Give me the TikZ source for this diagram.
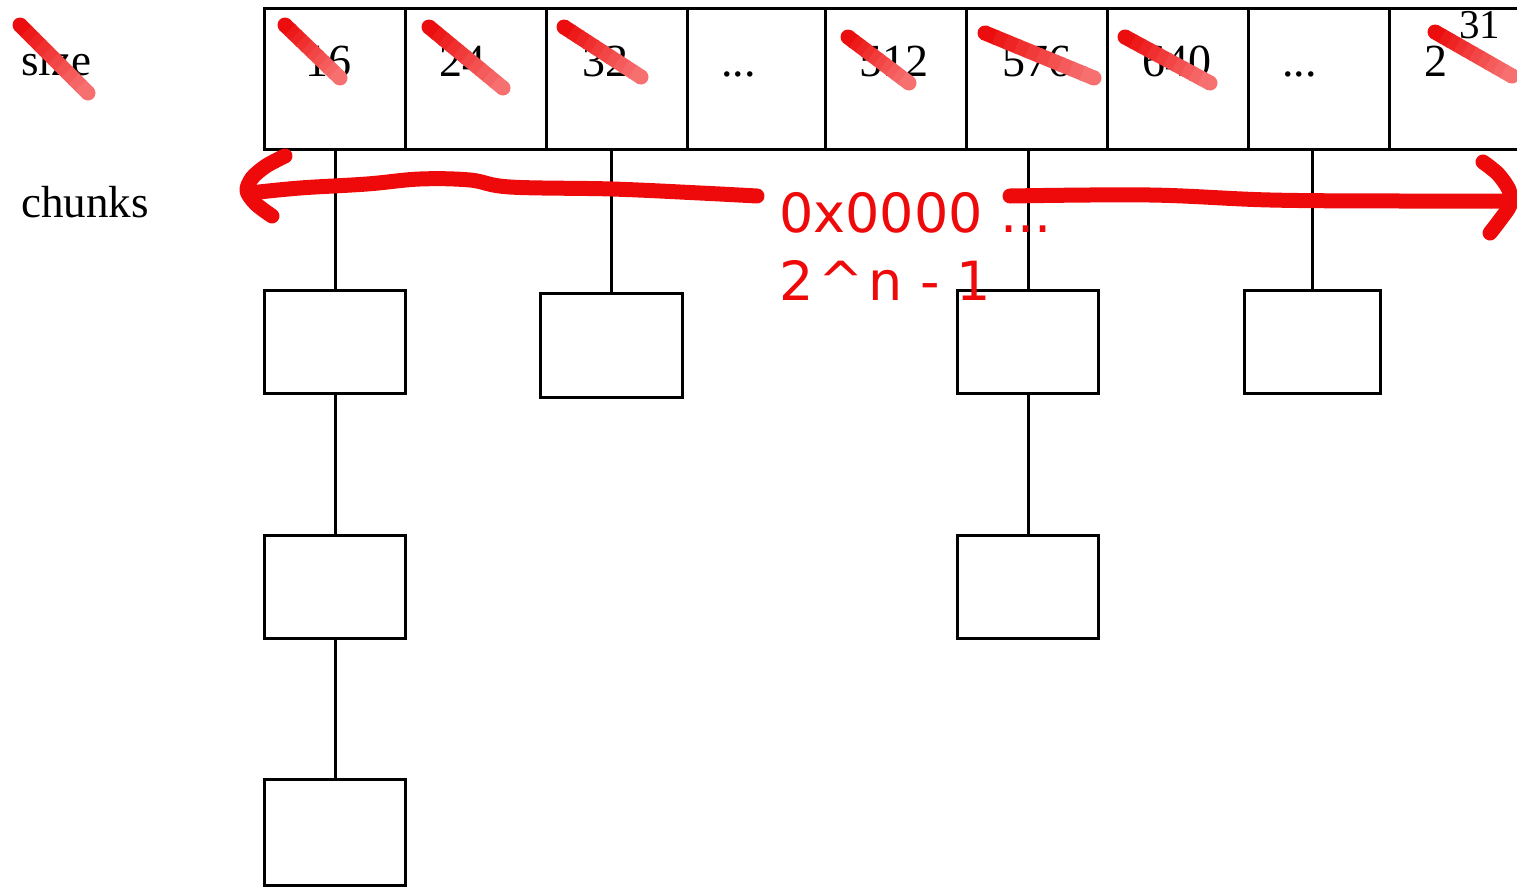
\documentclass[tikz,border=0pt]{standalone}
\usepackage{fontspec}
\setmainfont{Liberation Serif}
\newfontfamily\notefont{DejaVu Sans}
\usetikzlibrary{calc}

\definecolor{marker}{RGB}{238,10,10}
\definecolor{strikeA}{RGB}{236,14,14}
\definecolor{strikeB}{RGB}{247,112,112}

\tikzset{
  x=1pt, y=-1pt,
  cell/.style={draw, line width=3pt, inner sep=0pt, minimum width=141pt, minimum height=141pt},
  chunk/.style={draw, line width=3pt, inner sep=0pt, minimum width=141pt, minimum height=103pt, fill=white},
  link/.style={line width=3pt},
  lbl/.style={inner sep=0pt, anchor=base west, font=\fontsize{45}{54}\selectfont},
  num/.style={inner sep=0pt, anchor=base, font=\fontsize{46}{55}\selectfont},
  note/.style={inner sep=0pt, anchor=base west, text=marker, font=\notefont\fontsize{54}{64}\selectfont},
  pen/.style={draw=marker, line width=15pt, line cap=round, line join=round},
}

% a highlighter stroke that fades from strikeA to strikeB
\newcommand\crossout[2]{%
  \fill[strikeA] (#1) circle (7.5pt);
  \fill[strikeB] (#2) circle (7.5pt);
  \foreach \i in {0,...,9}{%
    \pgfmathsetmacro\segA{\i/10-0.01}%
    \pgfmathsetmacro\segB{(\i+1)/10+0.01}%
    \pgfmathtruncatemacro\tone{100-\i*100/9}%
    \draw[line width=15pt, strikeA!\tone!strikeB] ($(#1)!\segA!(#2)$) -- ($(#1)!\segB!(#2)$);
  }}

\begin{document}
\begin{tikzpicture}
\useasboundingbox (0,0) rectangle (1517,886);
\clip (0,0) rectangle (1517,886);

% row labels
\node[lbl] (size) at (21,75) {size};
\node[lbl] (chunks) at (21,217) {chunks};

% size classes
\node[cell] (c1) at (334.5,78.5) {};
\node[cell] (c2) at (475.5,78.5) {};
\node[cell] (c3) at (616.5,78.5) {};
\node[cell, minimum width=138pt] (c4) at (756,78.5) {};
\node[cell] (c5) at (895.5,78.5) {};
\node[cell] (c6) at (1036.5,78.5) {};
\node[cell] (c7) at (1177.5,78.5) {};
\node[cell] (c8) at (1318.5,78.5) {};
\node[cell] (c9) at (1459.5,78.5) {};

\node[num] (t1) at (328,76) {16};
\node[num] (t2) at (462,76) {24};
\node[num] (t3) at (605,76) {32};
\node[num, anchor=base west] (t4) at (721,76) {...};
\node[num] (t5) at (894,76) {512};
\node[num] (t6) at (1037,76) {576};
\node[num] (t7) at (1177,76) {640};
\node[num, anchor=base west] (t8) at (1282,76) {...};
\node[num, anchor=base west] (t9) at (1424,76) {2};
\node[num, anchor=base west, font=\fontsize{41}{49}\selectfont] (t9e) at (1459,38) {31};

% chunk lists
\node[chunk] (b11) at (335,341.5) {};
\node[chunk] (b12) at (335,586.5) {};
\node[chunk, minimum height=106pt] (b13) at (335,832) {};
\node[chunk, minimum width=142pt, minimum height=104pt] (b21) at (611.5,345) {};
\node[chunk] (b31) at (1028,341.5) {};
\node[chunk] (b32) at (1028,586.5) {};
\node[chunk, minimum width=136pt] (b41) at (1312.5,341.5) {};

\draw[link] (b11.north) -- (b11.north |- c1.south);
\draw[link] (b11.south) -- (b12.north);
\draw[link] (b12.south) -- (b13.north);
\draw[link] (b21.north) -- (b21.north |- c3.south);
\draw[link] (b31.north) -- (b31.north |- c6.south);
\draw[link] (b31.south) -- (b32.north);
\draw[link] (b41.north) -- (b41.north |- c8.south);

% hand-drawn corrections
\crossout{20,25}{88,93}
\crossout{285,25}{340,78}
\crossout{429,27}{503,88}
\crossout{564,27}{641,77}
\crossout{848,37}{909,83}
\crossout{985,33}{1094,78}
\crossout{1125,37}{1210,83}
\crossout{1435,32}{1512,76}

\draw[pen] plot[smooth, tension=0.6] coordinates {(250,193) (300,188) (367,184) (420,179) (470,180) (510,187) (612,189) (700,193) (757,196)};
\draw[pen] plot[smooth] coordinates {(285,156) (266,166) (252,178) (247,191) (256,204) (272,216)};
\draw[pen] plot[smooth, tension=0.6] coordinates {(1010,196) (1150,195) (1270,200) (1400,201) (1508,201)};
\draw[pen] plot[smooth] coordinates {(1483,162) (1498,174) (1509,190) (1510,205) (1500,220) (1490,233)};

\node[note] (range) at (779,232) {0x0000 ...};
\node[note] (limit) at (779,300) {2\kern5pt\char`\^\kern5pt n - 1};
\end{tikzpicture}
\end{document}
